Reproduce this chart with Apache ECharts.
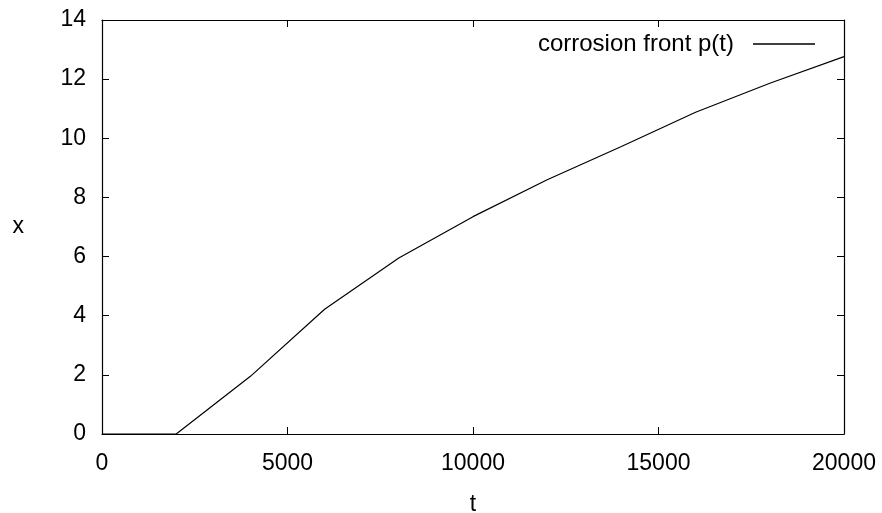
<!DOCTYPE html>
<html>
<head>
<meta charset="utf-8">
<script src="https://cdn.jsdelivr.net/npm/echarts@6/dist/echarts.min.js"></script>
<style>
  html, body { margin: 0; padding: 0; background: #fff; }
  #chart { width: 882px; height: 513px; }
</style>
</head>
<body>
<div id="chart"></div>
<script>
// time t and front position x
const tValues = [0, 2000, 4000, 6000, 8000, 10000, 12000, 14000, 16000, 18000, 20000];
const xValues = [0, 0, 1.95, 4.22, 5.95, 7.35, 8.6, 9.72, 10.88, 11.86, 12.76];
const seriesName = 'corrosion front p(t)';

const chart = echarts.init(document.getElementById('chart'));
const font = 'Liberation Sans, Arial, sans-serif';
const fs = 23;

const points = tValues.map((t, i) => [t, xValues[i]]);

// gnuplot look: frame on all sides, ticks pointing inward and mirrored
const tickStyle = { show: true, inside: true, length: 7, lineStyle: { color: '#000', width: 1 } };
const lineStyle = { show: true, onZero: false, lineStyle: { color: '#000', width: 1.2 } };
const plain = v => String(v);

let option = {
  animation: false,
  backgroundColor: '#fff',
  grid: { left: 102, right: 38, top: 20, bottom: 79, outerBoundsMode: 'none', containLabel: false },
  legend: {
    data: [seriesName],
    right: 62,
    top: 27,
    bottom: 'auto',
    left: 'auto',
    orient: 'horizontal',
    align: 'right',
    itemWidth: 62,
    itemHeight: 1.4,
    itemGap: 0,
    icon: 'rect',
    textStyle: { fontFamily: font, fontSize: 24, color: '#000', padding: [0, 14, 0, 0] }
  },
  xAxis: [{
    type: 'value',
    min: 0, max: 20000, interval: 5000,
    name: 't',
    nameLocation: 'middle',
    nameGap: 59,
    nameMoveOverlap: false,
    nameTextStyle: { fontFamily: font, fontSize: fs, color: '#000' },
    axisLine: lineStyle,
    axisTick: tickStyle,
    axisLabel: { fontFamily: font, fontSize: fs, color: '#000', margin: 18, formatter: plain },
    splitLine: { show: false }
  }, {
    type: 'value',
    position: 'top',
    min: 0, max: 20000, interval: 5000,
    axisLine: lineStyle,
    axisTick: tickStyle,
    axisLabel: { show: false },
    splitLine: { show: false }
  }],
  yAxis: [{
    type: 'value',
    min: 0, max: 14, interval: 2,
    name: 'x',
    nameLocation: 'middle',
    nameGap: 78,
    nameMoveOverlap: false,
    nameRotate: 0,
    nameTextStyle: { fontFamily: font, fontSize: fs, color: '#000' },
    axisLine: lineStyle,
    axisTick: tickStyle,
    axisLabel: { fontFamily: font, fontSize: fs, color: '#000', margin: 16, formatter: plain },
    splitLine: { show: false }
  }, {
    type: 'value',
    position: 'right',
    min: 0, max: 14, interval: 2,
    axisLine: lineStyle,
    axisTick: tickStyle,
    axisLabel: { show: false },
    splitLine: { show: false }
  }],
  series: [{
    name: seriesName,
    type: 'line',
    data: points,
    showSymbol: false,
    symbol: 'none',
    color: '#000',
    lineStyle: { color: '#000', width: 1.2 }
  }]
};

chart.setOption(option);
</script>
</body>
</html>
